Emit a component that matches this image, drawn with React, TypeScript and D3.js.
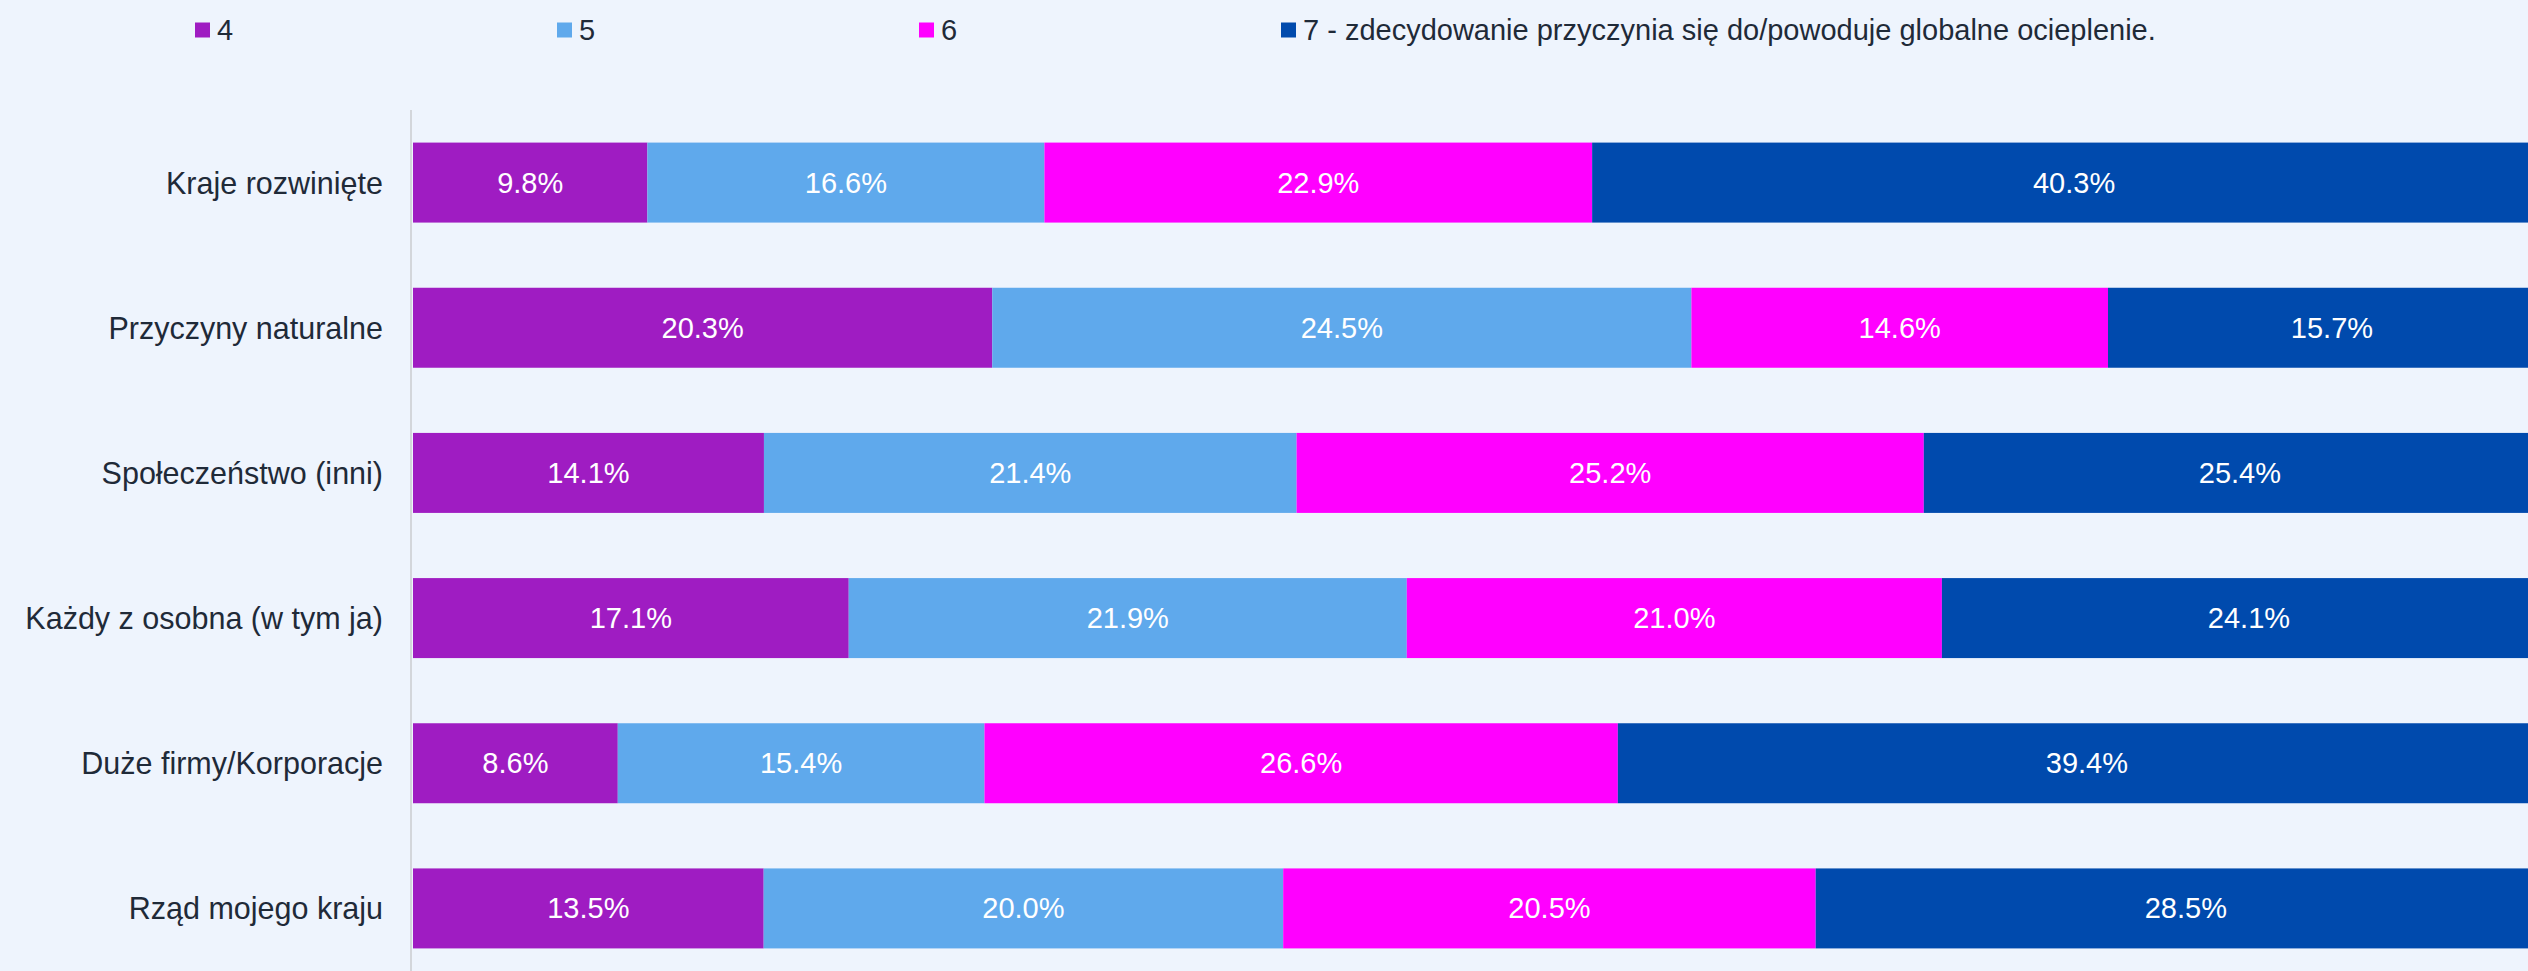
import { useEffect } from "react"
import * as d3 from "d3"

const categories = [
  "Kraje rozwinięte",
  "Przyczyny naturalne",
  "Społeczeństwo (inni)",
  "Każdy z osobna (w tym ja)",
  "Duże firmy/Korporacje",
  "Rząd mojego kraju",
]

const seriesNames = ["4", "5", "6", "7 - zdecydowanie przyczynia się do/powoduje globalne ocieplenie."]
const seriesColors = ["#9f1cc2", "#5fa9ec", "#ff00ff", "#004aad"]

const s4 = [9.8, 20.3, 14.1, 17.1, 8.6, 13.5]
const s5 = [16.6, 24.5, 21.4, 21.9, 15.4, 20.0]
const s6 = [22.9, 14.6, 25.2, 21.0, 26.6, 20.5]
const s7 = [40.3, 15.7, 25.4, 24.1, 39.4, 28.5]

const W = 2528
const H = 971
const FONT = "'Liberation Sans', Arial, sans-serif"

export default function App() {
  useEffect(() => {
    document.body.style.margin = "0"
    document.body.style.background = "#eef4fd"
  }, [])

  const rows = categories.map((c, i) => ({ cat: c, k0: s4[i], k1: s5[i], k2: s6[i], k3: s7[i] }))
  const keys = ["k0", "k1", "k2", "k3"]
  const stacked = d3.stack<any>().keys(keys).offset(d3.stackOffsetExpand)(rows)

  // the plot runs past the right edge, as in the source image
  const x = d3.scaleLinear().domain([0, 1]).range([413, 2556])
  const y = d3
    .scaleBand()
    .domain(categories)
    .range([110, 981])
    .paddingInner(0.449)
    .paddingOuter(0.2245)

  const raw = [s4, s5, s6, s7]

  return (
    <svg width={W} height={H} style={{ display: "block", background: "#eef4fd" }} fontFamily={FONT}>
      {/* legend */}
      {seriesNames.map((name, i) => {
        const lx = 195 + i * 362
        return (
          <g key={name} transform={`translate(${lx},30)`}>
            <rect x={0} y={-7.5} width={15} height={15} fill={seriesColors[i]} />
            <text x={22} y={0} dominantBaseline="central" fontSize={29} fill="#1f2a38">
              {name}
            </text>
          </g>
        )
      })}

      {/* axis line */}
      <line x1={411} x2={411} y1={110} y2={H} stroke="#d3d6db" strokeWidth={2} />

      {/* category labels */}
      {categories.map((c) => (
        <text
          key={c}
          x={383}
          y={(y(c) || 0) + y.bandwidth() / 2}
          textAnchor="end"
          dominantBaseline="central"
          fontSize={30.5}
          fill="#1f2a38"
        >
          {c}
        </text>
      ))}

      {/* bars */}
      {stacked.map((layer, si) => (
        <g key={layer.key} fill={seriesColors[si]}>
          {layer.map((d, i) => {
            const cat = categories[i]
            const x0 = x(d[0])
            const x1 = x(d[1])
            const yy = y(cat) || 0
            return (
              <g key={cat}>
                <rect x={x0} y={yy} width={x1 - x0} height={y.bandwidth()} />
                <text
                  x={(x0 + x1) / 2}
                  y={yy + y.bandwidth() / 2}
                  textAnchor="middle"
                  dominantBaseline="central"
                  fontSize={29}
                  fill="#ffffff"
                >
                  {raw[si][i].toFixed(1)}%
                </text>
              </g>
            )
          })}
        </g>
      ))}
    </svg>
  )
}
